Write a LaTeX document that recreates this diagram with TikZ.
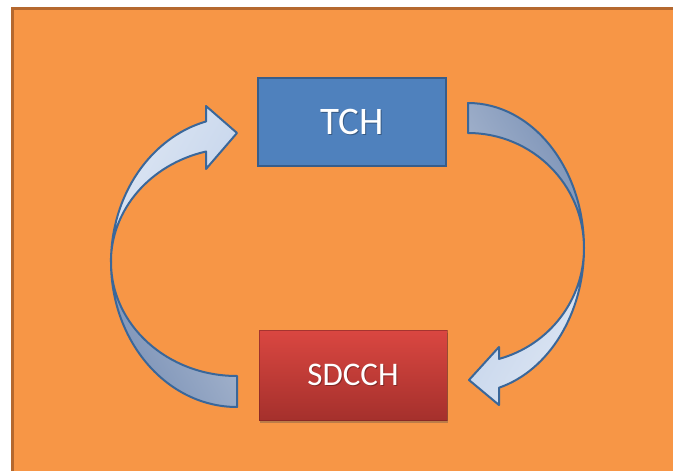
\documentclass[tikz,border=0pt]{standalone}
\usepackage{fontspec}
\setmainfont{Carlito}
\usetikzlibrary{shadows}
\definecolor{bgorange}{HTML}{F79646}
\definecolor{bgborder}{HTML}{B5682E}
\definecolor{tchfill}{HTML}{4F81BD}
\definecolor{tchline}{HTML}{385D8A}
\definecolor{arrline}{HTML}{3A679A}
\definecolor{lightA}{HTML}{DDE6F3}
\definecolor{lightB}{HTML}{C3D3EB}
\definecolor{darkA}{HTML}{ABB9D0}
\definecolor{darkB}{HTML}{7A91B6}
\definecolor{redtop}{HTML}{DA4741}
\definecolor{redbot}{HTML}{A5302C}
\tikzset{
  tchbox/.style={draw=tchline, line width=2pt, fill=tchfill, minimum width=188pt, minimum height=88pt, inner sep=0pt, text=white, font=\fontsize{39}{39}\selectfont},
  sdcchbox/.style={top color=redtop, bottom color=redbot, draw=redbot!70!black, draw opacity=0.5, line width=0.8pt, minimum width=188pt, minimum height=90pt, inner sep=0pt, text=white, font=\fontsize{33}{33}\selectfont,
    drop shadow={shadow xshift=1pt, shadow yshift=-3pt, opacity=0.35, fill=black!70}},
  txtshadow/.style={inner sep=0pt, text=black, text opacity=0.3},
  lightpiece/.style={draw=arrline, line width=2pt, line join=round, left color=lightA, right color=lightB, shading angle=60},
  darkpiece/.style={draw=arrline, line width=2pt, line join=round, left color=darkA, right color=darkB},
}
\begin{document}
\begin{tikzpicture}[x=1pt,y=-1pt]
\useasboundingbox (0,0) rectangle (673,471);
\clip (0,0) rectangle (673,471);
% background
\fill[white] (0,0) rectangle (673,471);
\draw[bgborder, line width=3pt, fill=bgorange] (12,8) rectangle (690,490);
% left curved arrow: centre (237,262), rx 126, outer ry 145, inner ry 114
\path[darkpiece, shading angle=-60] (237,407) arc[start angle=90, end angle=180, x radius=126, y radius=145]
   arc[start angle=180, end angle=90, x radius=126, y radius=114] -- cycle;
\path[lightpiece] (111,262) arc[start angle=180, end angle=255.8, x radius=126, y radius=145]
   -- (206,106) -- (237,133) -- (206,169) -- (206,151.5)
   arc[start angle=255.8, end angle=180, x radius=126, y radius=114] -- cycle;
% right curved arrow: centre (468,248), rx 116, outer ry 145, inner ry 115
\path[darkpiece, shading angle=120] (468,103) arc[start angle=270, end angle=360, x radius=116, y radius=145]
   arc[start angle=360, end angle=270, x radius=116, y radius=115] -- cycle;
\path[lightpiece, shading angle=240] (584,248) arc[start angle=0, end angle=74.5, x radius=116, y radius=145]
   -- (499,405) -- (469,380) -- (499,347) -- (499,358.9)
   arc[start angle=74.5, end angle=0, x radius=116, y radius=115] -- cycle;
% boxes
\node[tchbox] (tch) at (352,122) {};
\node[sdcchbox] (sdcch) at (353,375) {};
\node[txtshadow, font=\fontsize{39}{39}\selectfont] (tchs) at ([xshift=1pt,yshift=-1pt]tch.center) {TCH};
\node[txtshadow, font=\fontsize{33}{33}\selectfont] (sdcchs) at ([xshift=1pt,yshift=-1pt]sdcch.center) {SDCCH};
\node[inner sep=0pt, text=white, font=\fontsize{39}{39}\selectfont] (tcht) at (tch.center) {TCH};
\node[inner sep=0pt, text=white, font=\fontsize{33}{33}\selectfont] (sdccht) at (sdcch.center) {SDCCH};
\end{tikzpicture}
\end{document}
